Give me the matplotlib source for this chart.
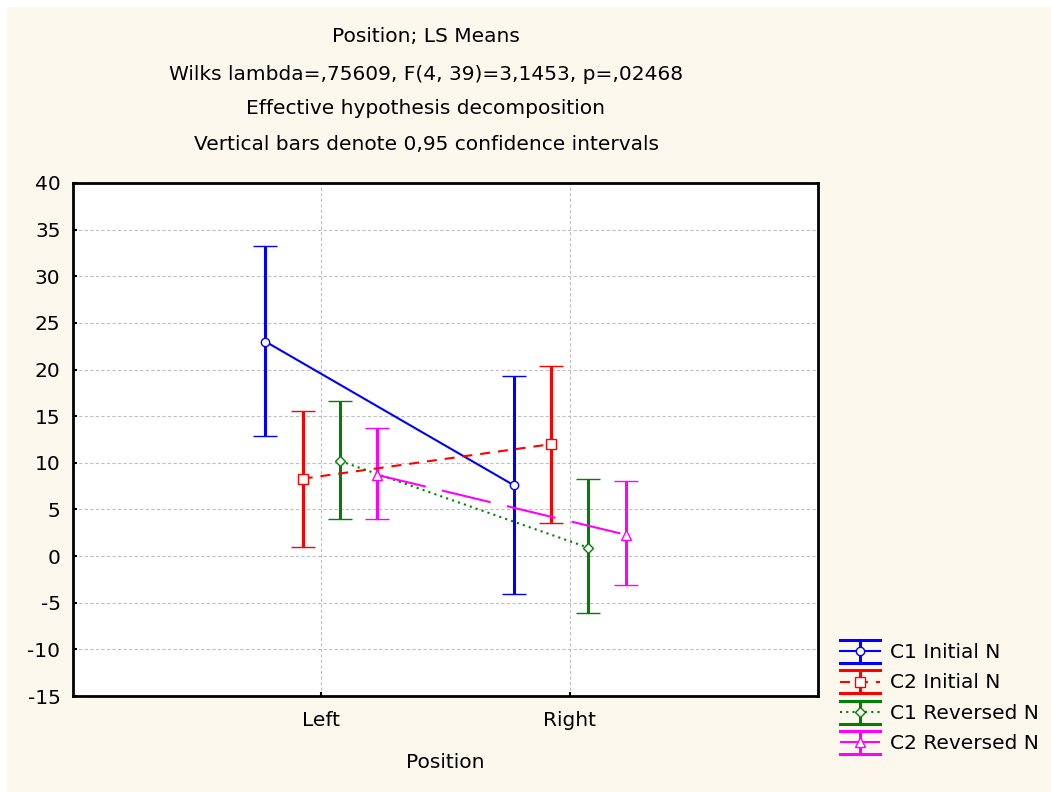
import matplotlib
matplotlib.use("Agg")
import matplotlib.pyplot as plt
from matplotlib.patches import Rectangle
from matplotlib.lines import Line2D
from matplotlib.legend_handler import HandlerBase
import numpy as np

plt.rcParams['font.family'] = ['DejaVu Sans']
plt.rcParams['axes.unicode_minus'] = False

categories = ["Left", "Right"]
series_names = ["C1 Initial N", "C2 Initial N", "C1 Reversed N", "C2 Reversed N"]
means = [
    [23.0, 7.6],
    [8.3, 12.0],
    [10.2, 0.9],
    [8.7, 2.3],
]
upper = [
    [33.2, 19.3],
    [15.6, 20.4],
    [16.6, 8.3],
    [13.7, 8.1],
]
lower = [
    [12.85, -4.1],
    [1.0, 3.5],
    [4.0, -6.1],
    [3.96, -3.1],
]
colors = ["#0000FF", "#FF0000", "#008000", "#FF00FF"]
markers = ["o", "s", "D", "^"]
marker_sizes = [6.0, 6.5, 5.0, 7.0]
linestyles = ["-", (0, (4.8, 3.8)), (0, (1, 2)), (0, (24, 8))]
offsets = [-0.225, -0.075, 0.075, 0.225]

title_lines = [
    "Position; LS Means",
    "Wilks lambda=,75609, F(4, 39)=3,1453, p=,02468",
    "Effective hypothesis decomposition",
    "Vertical bars denote 0,95 confidence intervals",
]

FS = 14.5
W, H = 1051, 792
fig = plt.figure(figsize=(W / 100, H / 100), dpi=100)
fig.patch.set_facecolor("white")
fig.patches.append(Rectangle((7 / W, 0), 1 - 7 / W, 1 - 7 / H, transform=fig.transFigure,
                             facecolor="#FDF8EE", edgecolor="none", zorder=-10))

ax = fig.add_axes([73 / W, 1 - 696 / H, (818 - 73) / W, (696 - 183) / H])
ax.set_facecolor("white")

x = np.arange(1, len(categories) + 1)
handles = []
for i in range(len(series_names)):
    xs = x + offsets[i]
    m = np.array(means[i])
    lo = m - np.array(lower[i])
    hi = np.array(upper[i]) - m
    eb = ax.errorbar(xs, m, yerr=[lo, hi], color=colors[i], linestyle=linestyles[i],
                     linewidth=1.5, marker=markers[i], markersize=marker_sizes[i],
                     markerfacecolor="white", markeredgecolor=colors[i], markeredgewidth=1.0,
                     ecolor=colors[i], elinewidth=2.2, capsize=8.6, capthick=2.2,
                     label=series_names[i], zorder=3)
    handles.append(i)


class EBHandler(HandlerBase):
    def create_artists(self, legend, orig_handle, xdescent, ydescent, width, height,
                       fontsize, trans):
        i = orig_handle
        x0, x1 = -xdescent, -xdescent + width
        cy = -ydescent + height / 2
        half = 8.3
        xc = (x0 + x1) / 2
        arts = []
        arts.append(Line2D([x0, x1], [cy, cy], color=colors[i], linestyle=linestyles[i],
                           linewidth=1.5))
        arts.append(Line2D([x0, x1], [cy + half, cy + half], color=colors[i], linewidth=2.2))
        arts.append(Line2D([x0, x1], [cy - half, cy - half], color=colors[i], linewidth=2.2))
        arts.append(Line2D([xc, xc], [cy - half, cy + half], color=colors[i], linewidth=2.2))
        arts.append(Line2D([xc], [cy], marker=markers[i], markersize=marker_sizes[i],
                           markerfacecolor="white", markeredgecolor=colors[i],
                           markeredgewidth=1.0, linestyle="none"))
        for a in arts:
            a.set_transform(trans)
        return arts


ax.set_xlim(0, 3)
ax.set_ylim(-15, 40)
ax.set_xticks(x)
ax.set_xticklabels(categories)
ax.set_yticks(np.arange(-15, 41, 5))
ax.tick_params(axis="both", direction="in", length=3, width=1.5, labelsize=FS)
ax.tick_params(axis="y", pad=9)
ax.tick_params(axis="x", pad=11)
ax.grid(True, color="#C0C0C0", linestyle=(0, (3, 2)), linewidth=0.8)
ax.set_axisbelow(True)
for sp in ax.spines.values():
    sp.set_linewidth(2)
    sp.set_color("black")
ax.set_xlabel("Position", fontsize=FS, labelpad=16)

ys = [37, 74, 108, 145]
for t, yy in zip(title_lines, ys):
    fig.text(426 / W, 1 - yy / H, t, ha="center", va="center", fontsize=FS)

leg = fig.legend(handles=handles, labels=series_names, loc="upper left",
                 handler_map={int: EBHandler()},
                 bbox_to_anchor=(840 / W, 1 - 641 / H), frameon=False, fontsize=FS,
                 handlelength=28.8 / FS, handleheight=1.2, handletextpad=0.5,
                 labelspacing=0.46, borderaxespad=0, borderpad=0)

fig.savefig("out.png", dpi=100, facecolor=fig.get_facecolor())
